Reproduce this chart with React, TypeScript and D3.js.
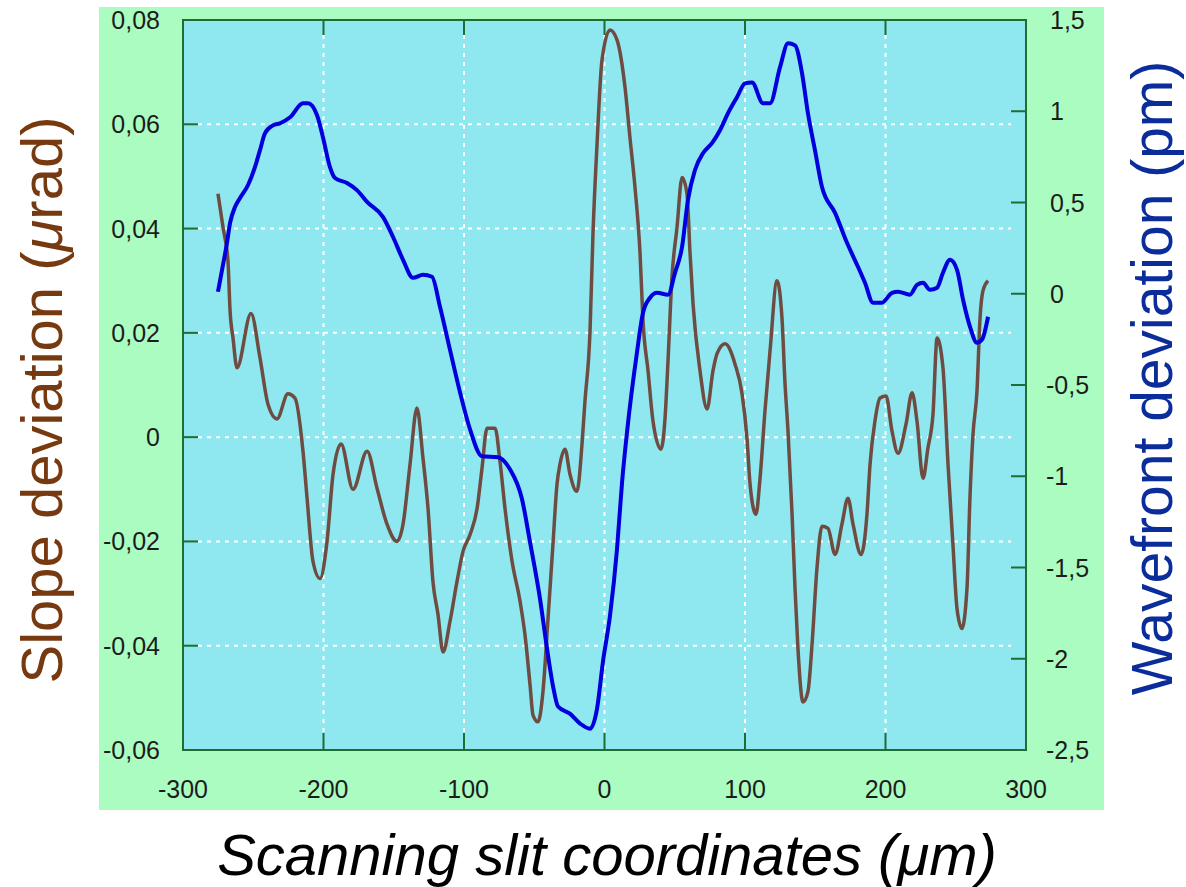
import React from 'react'
import * as d3 from 'd3'

// slope deviation (urad) vs slit coordinate (um)
const slopeX = [-275.1, -271.5, -268.0, -266.5, -264.4, -261.6, -251.6, -245.2, -239.5, -233.1, -225.3, -220.3, -214.6, -211.7, -207.5, -202.5, -197.5, -193.2, -187.5, -179.0, -169.0, -161.9, -154.8, -147.7, -143.4, -138.4, -133.5, -129.2, -125.6, -122.1, -118.5, -114.9, -110.0, -105.0, -100.7, -95.7, -90.7, -87.2, -83.6, -77.9, -74.4, -70.8, -65.8, -60.1, -56.6, -53.0, -50.9, -47.3, -43.8, -40.2, -36.7, -33.8, -31.7, -28.1, -24.6, -19.6, -16.0, -13.9, -10.3, -8.2, -5.3, -1.8, 3.9, 8.9, 14.6, 18.1, 21.7, 25.3, 27.4, 31.0, 34.5, 40.2, 43.1, 45.2, 48.0, 51.6, 55.2, 58.7, 60.9, 63.0, 68.0, 73.0, 77.2, 80.1, 85.8, 92.9, 97.9, 101.4, 103.6, 107.8, 110.7, 114.2, 117.8, 122.8, 126.3, 128.5, 130.6, 133.5, 135.6, 137.7, 141.3, 144.8, 147.7, 151.2, 154.8, 159.1, 164.1, 169.0, 173.3, 176.9, 182.6, 186.8, 189.0, 192.5, 196.1, 200.4, 204.6, 208.9, 214.6, 218.9, 222.4, 226.7, 230.2, 233.8, 236.7, 240.9, 244.5, 248.0, 250.9, 254.4, 258.0, 260.1, 262.3, 265.1, 267.3, 269.4, 273.0]
const slopeY = [0.0467, 0.0402, 0.0338, 0.0242, 0.0190, 0.0133, 0.0237, 0.0152, 0.0063, 0.0035, 0.0083, 0.0075, -0.0027, -0.0117, -0.0238, -0.0271, -0.0200, -0.0071, -0.0013, -0.0100, -0.0027, -0.0098, -0.0167, -0.0200, -0.0167, -0.0052, 0.0056, -0.0040, -0.0137, -0.0277, -0.0340, -0.0412, -0.0354, -0.0277, -0.0219, -0.0187, -0.0137, -0.0060, 0.0017, 0.0017, -0.0046, -0.0137, -0.0238, -0.0315, -0.0379, -0.0475, -0.0533, -0.0546, -0.0488, -0.0348, -0.0206, -0.0090, -0.0052, -0.0023, -0.0071, -0.0104, -0.0013, 0.0069, 0.0204, 0.0390, 0.0563, 0.0723, 0.0781, 0.0762, 0.0671, 0.0575, 0.0479, 0.0352, 0.0223, 0.0127, 0.0031, -0.0023, 0.0037, 0.0146, 0.0306, 0.0402, 0.0498, 0.0467, 0.0352, 0.0256, 0.0127, 0.0054, 0.0127, 0.0160, 0.0179, 0.0140, 0.0083, -0.0002, -0.0090, -0.0148, -0.0079, 0.0050, 0.0165, 0.0300, 0.0229, 0.0102, 0.0012, -0.0148, -0.0290, -0.0406, -0.0508, -0.0488, -0.0398, -0.0252, -0.0171, -0.0175, -0.0225, -0.0167, -0.0117, -0.0167, -0.0225, -0.0148, -0.0052, 0.0031, 0.0075, 0.0079, 0.0012, -0.0031, 0.0025, 0.0085, 0.0031, -0.0079, -0.0021, 0.0044, 0.0190, 0.0133, -0.0052, -0.0206, -0.0329, -0.0367, -0.0290, -0.0117, 0.0006, 0.0088, 0.0229, 0.0281, 0.0300]

// wavefront deviation (pm)
const waveX = [-275.1, -272.2, -268.7, -266.5, -263.0, -259.4, -253.7, -248.8, -245.2, -241.6, -235.9, -231.0, -223.8, -214.6, -211.0, -204.6, -200.4, -195.4, -191.8, -183.3, -176.2, -169.0, -157.7, -150.5, -143.4, -136.3, -129.2, -122.8, -117.1, -110.0, -102.8, -95.7, -87.2, -75.8, -67.3, -58.7, -53.0, -45.9, -40.9, -36.7, -33.1, -24.6, -17.4, -10.3, -5.3, -1.1, 3.9, 8.9, 12.5, 16.0, 23.1, 27.4, 32.4, 37.4, 45.2, 50.2, 55.2, 59.4, 64.4, 70.1, 76.5, 82.2, 87.9, 94.3, 100.0, 105.0, 112.8, 117.8, 124.9, 130.6, 135.6, 140.6, 144.8, 149.8, 154.8, 164.1, 172.6, 180.4, 185.4, 191.1, 197.5, 204.6, 208.9, 217.4, 222.4, 226.7, 231.7, 236.7, 240.9, 245.9, 250.9, 255.2, 260.1, 265.1, 268.7, 273.0]
const waveY = [0.011, 0.131, 0.279, 0.388, 0.475, 0.525, 0.596, 0.694, 0.787, 0.880, 0.923, 0.934, 0.967, 1.044, 1.044, 0.978, 0.858, 0.694, 0.634, 0.607, 0.568, 0.503, 0.421, 0.311, 0.186, 0.087, 0.104, 0.093, -0.071, -0.306, -0.541, -0.743, -0.891, -0.896, -0.962, -1.126, -1.361, -1.672, -1.945, -2.148, -2.262, -2.301, -2.355, -2.383, -2.273, -2.016, -1.765, -1.399, -1.033, -0.760, -0.322, -0.104, -0.022, 0.005, -0.005, 0.115, 0.257, 0.514, 0.678, 0.770, 0.825, 0.896, 0.989, 1.077, 1.153, 1.158, 1.044, 1.044, 1.240, 1.372, 1.361, 1.208, 0.989, 0.787, 0.585, 0.443, 0.279, 0.148, 0.060, -0.049, -0.049, 0.005, 0.011, -0.005, 0.049, 0.060, 0.022, 0.033, 0.115, 0.186, 0.131, -0.033, -0.180, -0.268, -0.251, -0.126]

const xTicks = [-300, -200, -100, 0, 100, 200, 300]
const xTickLabels = ['-300', '-200', '-100', '0', '100', '200', '300']
const leftTicks = [0.08, 0.06, 0.04, 0.02, 0, -0.02, -0.04, -0.06]
const leftTickLabels = ['0,08', '0,06', '0,04', '0,02', '0', '-0,02', '-0,04', '-0,06']
const rightTicks = [1.5, 1, 0.5, 0, -0.5, -1, -1.5, -2, -2.5]
const rightTickLabels = ['1,5', '1', '0,5', '0', '-0,5', '-1', '-1,5', '-2', '-2,5']

const W = 1186
const H = 887
const plot = { left: 183, right: 1026, top: 20, bottom: 750 }
const frameColor = '#1f6d33'
const font = 'Liberation Sans, Arial, Helvetica, sans-serif'

export default function App () {
  const x = d3.scaleLinear().domain([-300, 300]).range([plot.left, plot.right])
  const yL = d3.scaleLinear().domain([-0.06, 0.08]).range([plot.bottom, plot.top])
  const yR = d3.scaleLinear().domain([-2.5, 1.5]).range([plot.bottom, plot.top])

  const slopeLine = d3.line<number>()
    .x((d, i) => x(slopeX[i]))
    .y(d => yL(d))
    .curve(d3.curveMonotoneX)
  const waveLine = d3.line<number>()
    .x((d, i) => x(waveX[i]))
    .y(d => yR(d))
    .curve(d3.curveMonotoneX)

  const tickLen = 15
  const innerX = xTicks.filter(t => t > -300 && t < 300)
  const innerY = leftTicks.filter(t => t > -0.06 && t < 0.08)

  return (
    <svg width={W} height={H} style={{ position: 'absolute', left: 0, top: 0, display: 'block' }}>
      <rect x={0} y={0} width={W} height={H} fill='#ffffff' />
      <rect x={99} y={7} width={1005} height={803} fill='#abfcc1' />
      <rect x={plot.left} y={plot.top} width={plot.right - plot.left} height={plot.bottom - plot.top} fill='#8fe7ef' />

      {/* grid */}
      <g stroke='#ffffff' strokeWidth={2} strokeDasharray='4,5'>
        {innerX.map(t => (
          <line key={'gx' + t} x1={x(t)} x2={x(t)} y1={plot.top + tickLen} y2={plot.bottom - tickLen} />
        ))}
        {innerY.map(t => (
          <line key={'gy' + t} x1={plot.left + tickLen} x2={plot.right - tickLen} y1={yL(t)} y2={yL(t)} />
        ))}
      </g>

      {/* frame + ticks */}
      <g stroke={frameColor} strokeWidth={2}>
        <rect x={plot.left} y={plot.top} width={plot.right - plot.left} height={plot.bottom - plot.top} fill='none' />
        {innerX.map(t => (
          <g key={'tx' + t}>
            <line x1={x(t)} x2={x(t)} y1={plot.bottom} y2={plot.bottom - tickLen - 2} />
            <line x1={x(t)} x2={x(t)} y1={plot.top} y2={plot.top + tickLen} />
          </g>
        ))}
        {innerY.map(t => (
          <line key={'tl' + t} x1={plot.left} x2={plot.left + tickLen} y1={yL(t)} y2={yL(t)} />
        ))}
        {rightTicks.filter(t => t > -2.5 && t < 1.5).map(t => (
          <line key={'tr' + t} x1={plot.right} x2={plot.right - tickLen} y1={yR(t)} y2={yR(t)} />
        ))}
      </g>

      {/* data */}
      <path d={slopeLine(slopeY) || ''} fill='none' stroke='#6e4c42' strokeWidth={3.5} strokeLinejoin='round' />
      <path d={waveLine(waveY) || ''} fill='none' stroke='#0000dd' strokeWidth={4} strokeLinejoin='round' />

      {/* tick labels */}
      <g fontFamily={font} fontSize={25} fill='#1c1c1c'>
        {leftTicks.map((t, i) => (
          <text key={'ll' + t} x={160} y={yL(t)} textAnchor='end' dominantBaseline='central'>{leftTickLabels[i]}</text>
        ))}
        {rightTicks.map((t, i) => (
          <text key={'rl' + t} x={t < 0 ? 1046 : 1050} y={yR(t)} textAnchor='start' dominantBaseline='central'>{rightTickLabels[i]}</text>
        ))}
        {xTicks.map((t, i) => (
          <text key={'xl' + t} x={x(t)} y={789} textAnchor='middle' dominantBaseline='central'>{xTickLabels[i]}</text>
        ))}
      </g>

      {/* axis titles */}
      <text transform='translate(62,400) rotate(-90)' textAnchor='middle' fontFamily={font} fontSize={58} fill='#773a10'>
        Slope deviation (<tspan fontStyle='italic'>μ</tspan>rad)
      </text>
      <text transform='translate(1172,378) rotate(-90)' textAnchor='middle' fontFamily={font} fontSize={57} fill='#0b2d9b'>
        Wavefront deviation (pm)
      </text>
      <text x={607} y={875} textAnchor='middle' fontFamily={font} fontSize={58} fontStyle='italic' fill='#000000'>
        Scanning slit coordinates (μm)
      </text>
    </svg>
  )
}
